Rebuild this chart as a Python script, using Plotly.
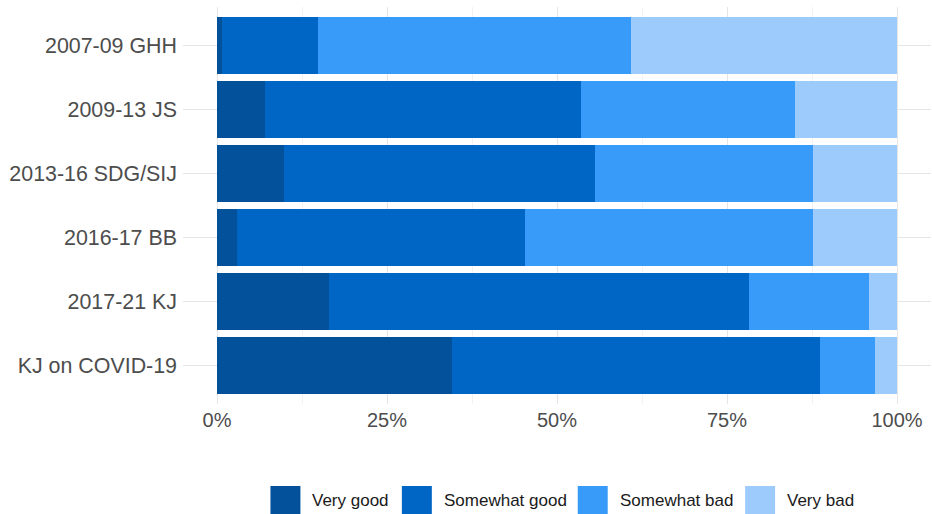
import plotly.graph_objects as go

categories = ["2007-09 GHH", "2009-13 JS", "2013-16 SDG/SIJ", "2016-17 BB", "2017-21 KJ", "KJ on COVID-19"]
very_good = [0.7, 7.0, 9.9, 2.9, 16.4, 34.6]
somewhat_good = [14.1, 46.6, 45.7, 42.4, 61.9, 54.1]
somewhat_bad = [46.1, 31.4, 32.1, 42.3, 17.6, 8.1]
very_bad = [39.1, 15.0, 12.3, 12.4, 4.1, 3.2]

series_names = ["Very good", "Somewhat good", "Somewhat bad", "Very bad"]
series_values = [very_good, somewhat_good, somewhat_bad, very_bad]
series_colors = ["#03519B", "#0066C5", "#389AF9", "#9DCBFB"]

W, H = 932, 514
ML, MR, MT, MB = 182.5, 1, 7, 110
PW, PH = W - ML - MR, H - MT - MB

fig = go.Figure()
for name, vals, color in zip(series_names, series_values, series_colors):
    fig.add_trace(go.Bar(
        y=categories, x=[v / 100 for v in vals], name=name, orientation="h",
        marker=dict(color=color, line=dict(width=0)), width=0.9, showlegend=False,
    ))

# custom legend (large square keys like the reference)
def px_x(p):
    return (p - ML) / PW

def px_y(p):
    return (H - MB - p) / PH

key_left = [270, 401.5, 577.5, 745]
key_size = 30
key_top = 486
shapes = []
annotations = []
for name, color, kx in zip(series_names, series_colors, key_left):
    shapes.append(dict(type="rect", xref="paper", yref="paper",
                       x0=px_x(kx), x1=px_x(kx + key_size),
                       y0=px_y(key_top + key_size), y1=px_y(key_top),
                       fillcolor=color, line=dict(width=0), layer="above"))
    annotations.append(dict(xref="paper", yref="paper", x=px_x(kx + key_size + 10),
                            y=px_y(500), xanchor="left", yanchor="middle",
                            text=name, showarrow=False,
                            font=dict(size=17, color="#1A1A1A")))

fig.update_layout(
    barmode="stack",
    width=W, height=H,
    margin=dict(l=ML, r=MR, t=MT, b=MB, autoexpand=False),
    plot_bgcolor="white", paper_bgcolor="white",
    font=dict(family="Liberation Sans, Arial, sans-serif", color="#4D4D4D"),
    showlegend=False,
    shapes=shapes,
    annotations=annotations,
)
fig.update_xaxes(
    range=[-0.05, 1.05], tickvals=[0, 0.25, 0.5, 0.75, 1.0],
    ticktext=["0%", "25%", "50%", "75%", "100%"],
    tickfont=dict(size=20, color="#4D4D4D"),
    showgrid=True, gridcolor="#E5E5E5", gridwidth=1,
    minor=dict(tickvals=[0.125, 0.375, 0.625, 0.875], showgrid=True, gridcolor="#F2F2F2", gridwidth=1),
    zeroline=False, showline=False, ticks="", automargin=False, ticklabelstandoff=2,
)
fig.update_yaxes(
    categoryorder="array", categoryarray=categories[::-1],
    range=[-0.6, 5.6],
    tickfont=dict(size=21.4, color="#4D4D4D"),
    showgrid=True, gridcolor="#E5E5E5", gridwidth=1,
    zeroline=False, showline=False, ticks="", automargin=False, ticklabelstandoff=5,
)

fig.write_html("out.html", config={"displayModeBar": False},
               post_script="document.body.style.margin='0';")
